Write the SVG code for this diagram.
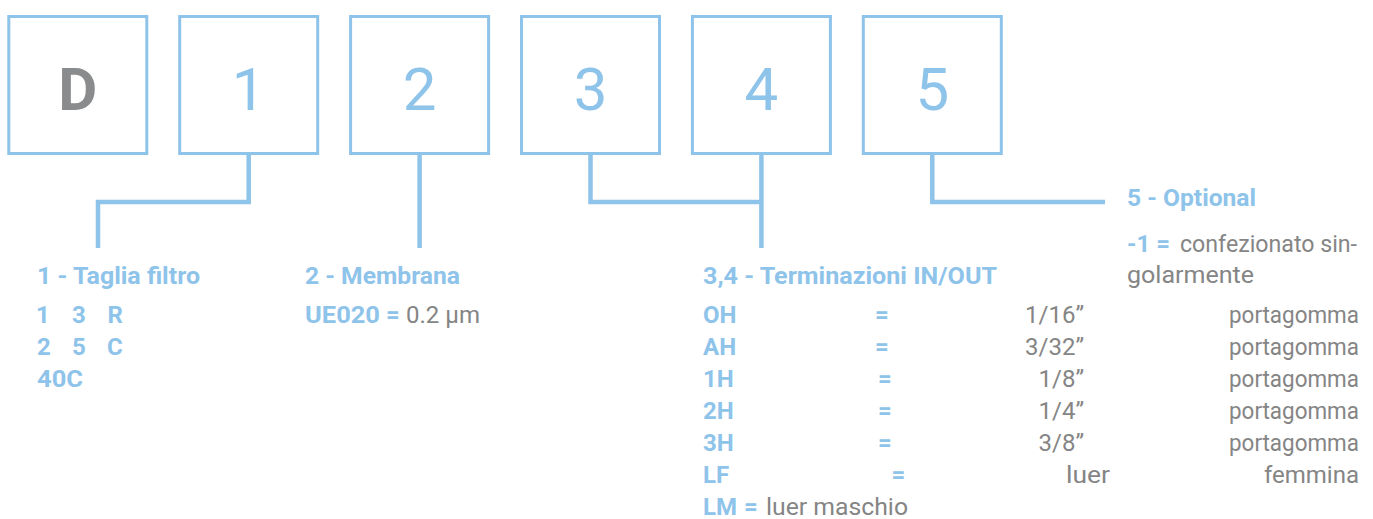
<svg xmlns="http://www.w3.org/2000/svg" width="1373" height="519" viewBox="0 0 1373 519">
<style>
.box{fill:#fff;stroke:#8EC3EA;stroke-width:3}
.big{font-family:Roboto,"Liberation Sans",sans-serif;font-size:60px;fill:#8EC3EA;text-anchor:middle}
.bigD{font-family:Roboto,"Liberation Sans",sans-serif;font-size:60px;font-weight:bold;fill:#898B8C;text-anchor:middle}
.conn{fill:none;stroke:#8EC3EA;stroke-width:4.5;stroke-linejoin:miter;stroke-linecap:butt}
.b{font-family:Roboto,"Liberation Sans",sans-serif;font-size:24px;font-weight:bold;fill:#8EC3EA}
.g{font-family:Roboto,"Liberation Sans",sans-serif;font-size:24px;fill:#858585}
.m{text-anchor:middle}
.e{text-anchor:end}
</style>
<rect width="1373" height="519" fill="#fff"/>
<g id="node-D"><rect class="box" x="8.8" y="16.5" width="138" height="137"/><text class="bigD" x="77.8" y="110">D</text></g>
<g id="node-1"><rect class="box" x="179.7" y="16.5" width="138" height="137"/><text class="big" x="248.7" y="110">1</text></g>
<g id="node-2"><rect class="box" x="350.6" y="16.5" width="138" height="137"/><text class="big" x="419.6" y="110">2</text></g>
<g id="node-3"><rect class="box" x="521.5" y="16.5" width="138" height="137"/><text class="big" x="590.5" y="110">3</text></g>
<g id="node-4"><rect class="box" x="692.4" y="16.5" width="138" height="137"/><text class="big" x="761.4" y="110">4</text></g>
<g id="node-5"><rect class="box" x="863.3" y="16.5" width="138" height="137"/><text class="big" x="932.3" y="110">5</text></g>
<g id="connectors">
<path class="conn" d="M248.7 155 V202 H98 V248"/>
<path class="conn" d="M419.6 155 V248"/>
<path class="conn" d="M590.5 155 V202 H761.4"/>
<path class="conn" d="M761.4 155 V248"/>
<path class="conn" d="M932.3 155 V202 H1105"/>
</g>
<g id="legend-1">
<text class="b" x="37" y="284" textLength="163" lengthAdjust="spacingAndGlyphs">1 - Taglia filtro</text>
<text class="b" y="323"><tspan x="36">1</tspan><tspan x="72">3</tspan><tspan x="107.5">R</tspan></text>
<text class="b" y="355"><tspan x="37">2</tspan><tspan x="72">5</tspan><tspan x="107">C</tspan></text>
<text class="b" x="37" y="387" textLength="46" lengthAdjust="spacingAndGlyphs">40C</text>
</g>
<g id="legend-2">
<text class="b" x="305" y="284" textLength="155" lengthAdjust="spacingAndGlyphs">2 - Membrana</text>
<text class="b" x="305" y="323" textLength="75" lengthAdjust="spacingAndGlyphs">UE020</text>
<text class="b" x="386" y="323">=</text>
<text class="g" x="406" y="323" textLength="74" lengthAdjust="spacingAndGlyphs">0.2 μm</text>
</g>
<g id="legend-34">
<text class="b" x="703" y="284" textLength="294" lengthAdjust="spacingAndGlyphs">3,4 - Terminazioni IN/OUT</text>
<text class="b" x="703" y="323">OH</text><text class="b m" x="882" y="323">=</text><text class="g e" x="1084" y="323">1/16”</text><text class="g e" x="1359" y="323" textLength="130" lengthAdjust="spacingAndGlyphs">portagomma</text>
<text class="b" x="703" y="355">AH</text><text class="b m" x="882" y="355">=</text><text class="g e" x="1084" y="355">3/32”</text><text class="g e" x="1359" y="355" textLength="130" lengthAdjust="spacingAndGlyphs">portagomma</text>
<text class="b" x="703" y="387">1H</text><text class="b m" x="885" y="387">=</text><text class="g e" x="1084" y="387">1/8”</text><text class="g e" x="1359" y="387" textLength="130" lengthAdjust="spacingAndGlyphs">portagomma</text>
<text class="b" x="703" y="419">2H</text><text class="b m" x="885" y="419">=</text><text class="g e" x="1084" y="419">1/4”</text><text class="g e" x="1359" y="419" textLength="130" lengthAdjust="spacingAndGlyphs">portagomma</text>
<text class="b" x="703" y="451">3H</text><text class="b m" x="885" y="451">=</text><text class="g e" x="1084" y="451">3/8”</text><text class="g e" x="1359" y="451" textLength="130" lengthAdjust="spacingAndGlyphs">portagomma</text>
<text class="b" x="703" y="483">LF</text><text class="b m" x="898.5" y="483">=</text><text class="g" x="1066" y="483" textLength="44" lengthAdjust="spacingAndGlyphs">luer</text><text class="g e" x="1359" y="483" textLength="95" lengthAdjust="spacingAndGlyphs">femmina</text>
<text class="b" x="703" y="515">LM</text><text class="b" x="744" y="515">=</text><text class="g" x="766" y="515" textLength="142" lengthAdjust="spacingAndGlyphs">luer maschio</text>
</g>
<g id="legend-5">
<text class="b" x="1127" y="206" textLength="129" lengthAdjust="spacingAndGlyphs">5 - Optional</text>
<text class="b" x="1127" y="252">-1 =</text>
<text class="g" x="1180" y="252" textLength="177" lengthAdjust="spacingAndGlyphs">confezionato sin-</text>
<text class="g" x="1127" y="283" textLength="127" lengthAdjust="spacingAndGlyphs">golarmente</text>
</g>
</svg>
